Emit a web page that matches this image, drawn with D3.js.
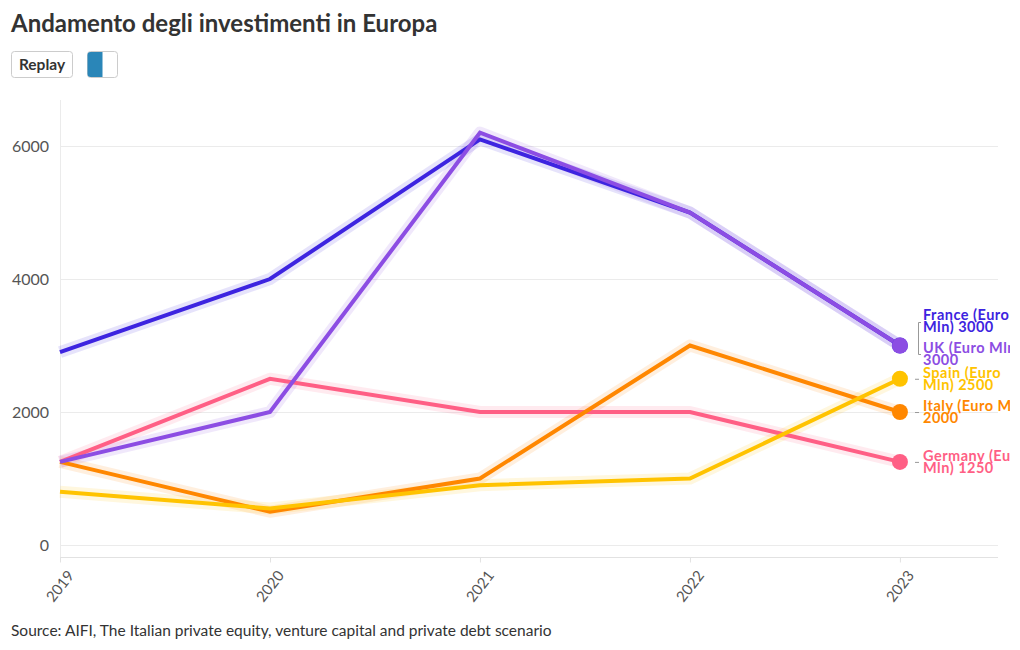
<!DOCTYPE html>
<html>
<head>
<meta charset="utf-8">
<script src="https://cdn.jsdelivr.net/npm/d3@7"></script>
<style>
  html, body { margin: 0; padding: 0; background: #fff; }
  body { width: 1020px; height: 650px; overflow: hidden; font-family: Lato, "Noto Sans", sans-serif; }
  svg { display: block; }
</style>
</head>
<body>
<svg id="chart" width="1020" height="650"></svg>
<script>
const years = [2019, 2020, 2021, 2022, 2023];
const seriesNames = ["Germany", "Italy", "Spain", "France", "UK"];
const seriesColors = ["#ff5f85", "#ff8700", "#ffc300", "#3d24e0", "#8c4de3"];
const germany = [1250, 2500, 2000, 2000, 1250];
const italy   = [1250, 500, 1000, 3000, 2000];
const spain   = [800, 550, 900, 1000, 2500];
const france  = [2900, 4000, 6100, 5000, 3000];
const uk      = [1250, 2000, 6200, 5000, 3000];
const seriesValues = [germany, italy, spain, france, uk];
const yTicks = [0, 2000, 4000, 6000];
const labelLines = {
  France: ["France (Euro", "Mln) 3000"],
  UK: ["UK (Euro Mln)", "3000"],
  Spain: ["Spain (Euro", "Mln) 2500"],
  Italy: ["Italy (Euro Mln)", "2000"],
  Germany: ["Germany (Euro", "Mln) 1250"]
};
const labelTop = { France: 320, UK: 353, Spain: 378, Italy: 411, Germany: 461 };
const title = "Andamento degli investimenti in Europa";
const source = "Source: AIFI, The Italian private equity, venture capital and private debt scenario";

const svg = d3.select("#chart");

svg.append("text").attr("x", 11).attr("y", 32)
  .attr("font-size", 24).attr("font-weight", 700).attr("fill", "#333")
  .text(title);

// Replay button
const btn = svg.append("g");
btn.append("rect").attr("x", 11.5).attr("y", 51.5).attr("width", 61).attr("height", 26)
  .attr("rx", 3).attr("fill", "#fff").attr("stroke", "#ccc");
btn.append("text").attr("x", 42).attr("y", 70).attr("text-anchor", "middle")
  .attr("font-size", 15.5).attr("font-weight", 700).attr("fill", "#333").text("Replay");
// toggle
const tg = svg.append("g");
tg.append("rect").attr("x", 87.5).attr("y", 51.5).attr("width", 30).attr("height", 26)
  .attr("rx", 3).attr("fill", "#fff").attr("stroke", "#ccc");
tg.append("path").attr("d", "M90.5,52 h12 v25 h-12 a3,3 0 0 1 -3,-3 v-19 a3,3 0 0 1 3,-3 z")
  .attr("fill", "#2a86b8");

const x = d3.scaleLinear().domain([2019, 2023.467]).range([60, 998]);
const y = d3.scaleLinear().domain([-180, 6692]).range([557, 100]);

// grid
const grid = svg.append("g");
grid.selectAll("line.h").data(yTicks).join("line")
  .attr("x1", 60).attr("x2", 998)
  .attr("y1", d => Math.round(y(d)) + 0.5).attr("y2", d => Math.round(y(d)) + 0.5)
  .attr("stroke", "#ebebeb");
grid.append("line").attr("x1", 60.5).attr("x2", 60.5).attr("y1", 100).attr("y2", 557)
  .attr("stroke", "#ebebeb");

// y axis labels
const yAxis = d3.axisLeft(y).tickValues(yTicks).tickSize(0).tickPadding(0).tickFormat(d3.format("d"));
const ya = svg.append("g").attr("transform", "translate(49,0)").call(yAxis);
ya.select(".domain").remove();
ya.selectAll("text").attr("font-size", 16).attr("fill", "#555").attr("font-family", "Lato, sans-serif")
  .attr("dy", "0.35em");

// x axis
const xAxis = d3.axisBottom(x).tickValues(years).tickFormat(d3.format("d")).tickSize(5).tickSizeOuter(0);
const xa = svg.append("g").attr("transform", "translate(0,557.5)").call(xAxis);
xa.select(".domain").attr("stroke", "#e2e2e2").attr("d", "M60,0H998");
xa.selectAll(".tick line").attr("stroke", "#e2e2e2");
xa.selectAll("text").attr("font-size", 15).attr("fill", "#555").attr("font-family", "Lato, sans-serif")
  .attr("text-anchor", "end").attr("dy", "0.35em")
  .attr("transform", "translate(4,10) rotate(-52)");

// lines
const line = d3.line().x((d, i) => x(years[i])).y(d => y(d));
const lg = svg.append("g");
seriesNames.forEach((name, k) => {
  lg.append("path").attr("d", line(seriesValues[k])).attr("fill", "none")
    .attr("stroke", seriesColors[k]).attr("stroke-opacity", 0.13).attr("stroke-width", 12)
    .attr("stroke-linejoin", "round");
});
seriesNames.forEach((name, k) => {
  lg.append("path").attr("d", line(seriesValues[k])).attr("fill", "none")
    .attr("stroke", seriesColors[k]).attr("stroke-width", 4)
    .attr("stroke-linejoin", "miter");
});
// end dots
seriesNames.forEach((name, k) => {
  const v = seriesValues[k];
  lg.append("circle").attr("cx", x(years[4])).attr("cy", y(v[4])).attr("r", 8)
    .attr("fill", seriesColors[k]);
});

// labels
svg.append("clipPath").attr("id", "lc").append("rect").attr("x", 0).attr("y", 0).attr("width", 1010).attr("height", 650);
const lab = svg.append("g").attr("clip-path", "url(#lc)");
seriesNames.forEach((name, k) => {
  const v = seriesValues[k];
  const yy = y(v[4]);
  if (name !== "France" && name !== "UK") {
    lab.append("line").attr("x1", 915).attr("x2", 919).attr("y1", yy + 0.5).attr("y2", yy + 0.5)
      .attr("stroke", "#999");
  }
  const t = lab.append("text").attr("x", 923).attr("y", labelTop[name])
    .attr("font-size", 14.5).attr("font-weight", 700).attr("fill", seriesColors[k])
    .attr("letter-spacing", 0.5);
  labelLines[name].forEach((s, i) => {
    t.append("tspan").attr("x", 923).attr("dy", i === 0 ? 0 : 12).text(s);
  });
});
// bracket for France/UK
lab.append("path").attr("d", "M921,322.5 H918.5 V354.5 H921").attr("fill", "none").attr("stroke", "#999");

svg.append("text").attr("x", 11).attr("y", 636).attr("font-size", 15.5).attr("fill", "#333")
  .text(source);
</script>
</body>
</html>
